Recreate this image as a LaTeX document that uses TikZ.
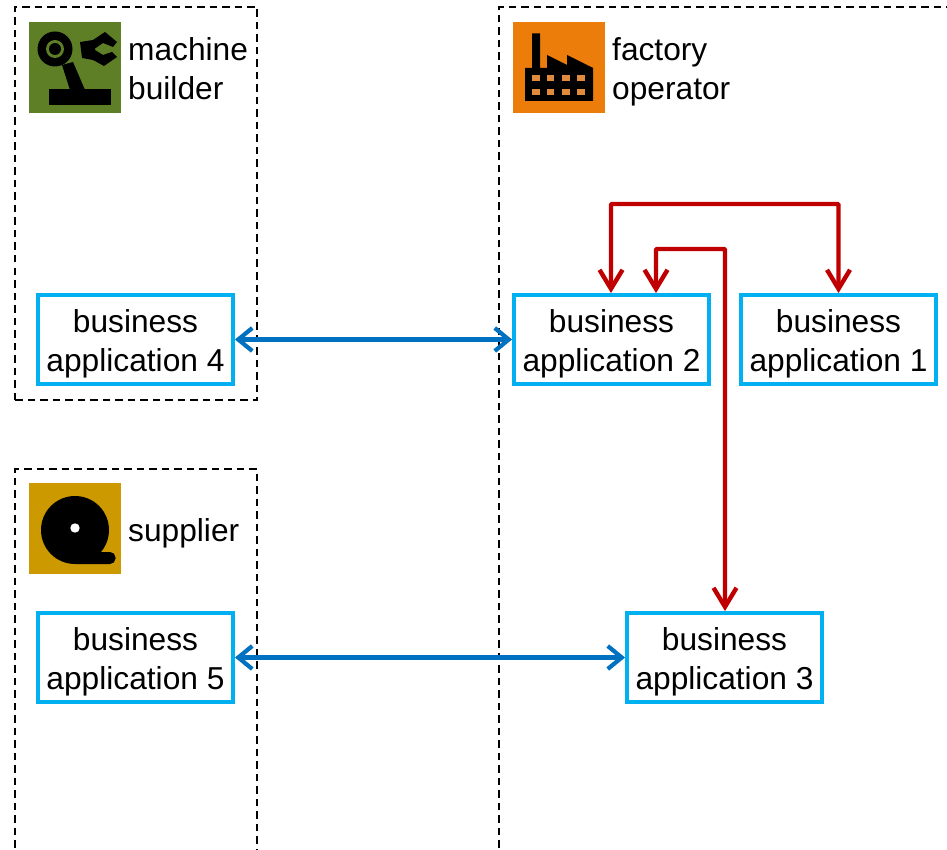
\documentclass[tikz,border=0pt]{standalone}
\usepackage{fontspec}
\setmainfont{Liberation Sans}
\usetikzlibrary{arrows.meta}
\definecolor{appblue}{HTML}{00B0F0}
\definecolor{linkblue}{HTML}{0070C0}
\definecolor{linkred}{HTML}{C00000}
\definecolor{mbgreen}{HTML}{5F7F26}
\definecolor{foorange}{HTML}{ED7D0A}
\definecolor{fowin}{HTML}{DF8A3C}
\definecolor{supgold}{HTML}{CC9900}
\tikzset{
  x=1pt,y=-1pt,
  zone/.style={draw=black,line width=1.7pt,dash pattern=on 7.5pt off 5pt},
  app/.style={draw=appblue,line width=4.4pt,fill=white,minimum width=194.5pt,minimum height=88.5pt,inner sep=0pt},
  apptext/.style={inner sep=0pt,align=center,font=\fontsize{31.7}{39}\selectfont},
  lbl/.style={anchor=west,inner sep=0pt,align=left,font=\fontsize{31.7}{39}\selectfont},
  bluelink/.style={draw=linkblue,line width=4.4pt,{Straight Barb[length=14pt,width=23pt,line width=4.2pt]}-{Straight Barb[length=14pt,width=23pt,line width=4.2pt]}},
  redlink/.style={draw=linkred,line width=4.4pt,{Straight Barb[length=19pt,width=23pt,line width=4.4pt]}-{Straight Barb[length=19pt,width=23pt,line width=4.4pt]},rounded corners=1pt},
  icon/.style={draw=none,minimum width=92pt,minimum height=91.5pt,inner sep=0pt}
}
\begin{document}
\begin{tikzpicture}
\useasboundingbox (0,0) rectangle (947,850);
\begin{scope}
\clip (0,0) rectangle (947,850);
\draw[zone] (15,860) -- (15,469) -- (257,469) -- (257,860);
\draw[zone] (15,400) -- (15,7) -- (257,7) -- (257,400) -- cycle;
\draw[zone] (499,860) -- (499,7) -- (960,7);
\end{scope}
% icons
\node[icon,fill=mbgreen] (mb) at (75,67.5) {};
\node[icon,fill=foorange] (fo) at (559,67.5) {};
\node[icon,fill=supgold] (su) at (75,528.5) {};
% machine builder icon
\fill[black] (55,49) circle[radius=17.5];
\fill[mbgreen] (55,49) circle[radius=9];
\fill[black] (55,49) circle[radius=6];
\fill[black] (62,65) -- (73,62) -- (85,90) -- (70,90) -- cycle;
\fill[black] (48.5,89) rectangle (111,105.5);
\fill[black] (80,42) -- (93,40) -- (105,32) -- (117,42) -- (113,47) -- (103,43) -- (95,48.5) -- (95,50) -- (103,55) -- (112,52) -- (117,57) -- (104,66) -- (93,60) -- (82,58) -- cycle;
% factory icon
\fill[black] (532,33.5) rectangle (540,68) (525,68) rectangle (593,101);
\fill[black] (547,68) -- (547,55) -- (567,65) -- (567,55) -- (593,68) -- cycle;
\foreach \wx in {532,546.5,562,577}{
  \foreach \wy in {75,89}{
    \fill[fowin] (\wx,\wy) rectangle ++(7.7,6);
  }
}
% supplier icon
\fill[black] (75,530) circle[radius=34];
\fill[black,rounded corners=5.5pt] (70,552) rectangle (115.5,564);
\fill[white] (75,528) circle[radius=4.7];
% labels
\node[lbl] (t1) at (128,69) {machine\\builder};
\node[lbl] (t2) at (612,72) {factory\\operator};
\node[lbl] (t3) at (128,533) {supplier};
% apps
\node[app] (a4) at (135.5,339.5) {};
\node[app] (a2) at (611.5,339.5) {};
\node[app] (a1) at (838.5,339.5) {};
\node[app] (a5) at (135.5,657.5) {};
\node[app] (a3) at (724.5,657.5) {};
\node[apptext] (x4) at (135.5,343.5) {business\\application 4};
\node[apptext] (x2) at (611.5,343.5) {business\\application 2};
\node[apptext] (x1) at (838.5,343.5) {business\\application 1};
\node[apptext] (x5) at (135.5,661.5) {business\\application 5};
\node[apptext] (x3) at (724.5,661.5) {business\\application 3};
% links
\draw[bluelink] (a4.east) -- (a2.west);
\draw[bluelink] (a5.east) -- (a3.west);
\coordinate (r1) at (611,204);
\coordinate (r2) at (838.5,204);
\coordinate (r3) at (656,249);
\coordinate (r4) at (725,249);
\draw[redlink] (a2.north -| r1) -- (r1) -- (r2) -- (a1.north -| r2);
\draw[redlink] (a2.north -| r3) -- (r3) -- (r4) -- (a3.north -| r4);
\end{tikzpicture}
\end{document}
